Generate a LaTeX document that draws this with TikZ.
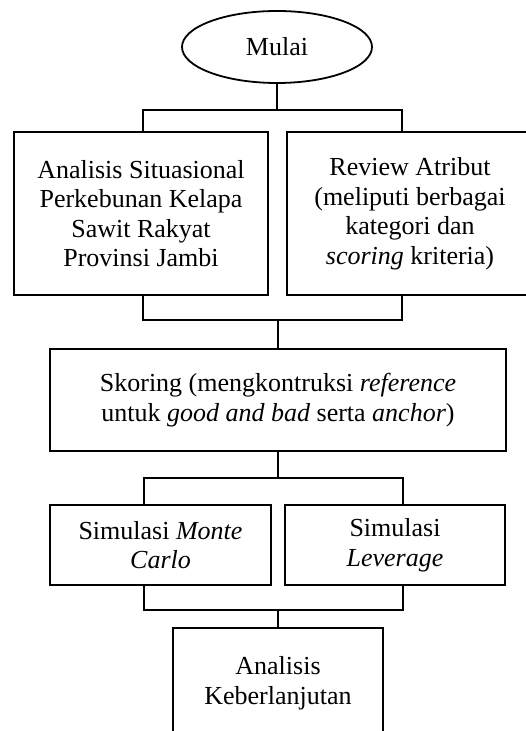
\documentclass[tikz,border=0pt]{standalone}
\usepackage{fontspec}
\setmainfont{Liberation Serif}
\usetikzlibrary{shapes.geometric}
\begin{document}
\begin{tikzpicture}[x=0.5pt,y=-0.5pt, line width=0.9pt,
  box/.style={draw, rectangle, align=center, inner sep=0pt, font=\fontsize{13}{14.75}\selectfont},
  startnode/.style={draw, ellipse, inner sep=0pt, minimum width=95pt, minimum height=36pt, font=\fontsize{13}{14.75}\selectfont},
  conn/.style={line width=0.9pt}]
\useasboundingbox (0,0) rectangle (525,731);
\node[startnode] (start) at (277,47) {Mulai};
\node[box, minimum width=127pt, minimum height=81.5pt] (b1) at (141,213.5)
  {Analisis Situasional\\Perkebunan Kelapa\\Sawit Rakyat\\Provinsi Jambi};
\node[box, minimum width=123pt, minimum height=81.5pt] (b2) at (410,213.5)
  {Review Atribut\\(meliputi berbagai\\kategori dan\\\textit{scoring} kriteria)};
\node[box, minimum width=228pt, minimum height=51pt] (b3) at (278,400)
  {Skoring (mengkontruksi \textit{reference}\\untuk \textit{good and bad} serta \textit{anchor})};
\node[box, minimum width=110.5pt, minimum height=40pt] (b4) at (160.5,545)
  {Simulasi \textit{Monte}\\\textit{Carlo}};
\node[box, minimum width=110pt, minimum height=40pt] (b5) at (395,545)
  {Simulasi\\\textit{Leverage}};
\node[box, minimum width=105pt, minimum height=55pt] (b6) at (278,683)
  {Analisis\\Keberlanjutan};
\coordinate (j1l) at (143,110); \coordinate (j1r) at (402,110);
\coordinate (j2l) at (143,320); \coordinate (j2r) at (402,320);
\coordinate (j3l) at (144,478); \coordinate (j3r) at (403,478);
\coordinate (j4l) at (144,610); \coordinate (j4r) at (403,610);
\draw[conn] (start.south) -- (start.south |- j1l);
\draw[conn] (b1.north -| j1l) -- (j1l) -- (j1r) -- (b2.north -| j1r);
\draw[conn] (b1.south -| j2l) -- (j2l) -- (j2r) -- (b2.south -| j2r);
\draw[conn] (b3.north) -- (b3.north |- j2l);
\draw[conn] (b3.south) -- (b3.south |- j3l);
\draw[conn] (b4.north -| j3l) -- (j3l) -- (j3r) -- (b5.north -| j3r);
\draw[conn] (b4.south -| j4l) -- (j4l) -- (j4r) -- (b5.south -| j4r);
\draw[conn] (b6.north) -- (b6.north |- j4l);
\end{tikzpicture}
\end{document}
